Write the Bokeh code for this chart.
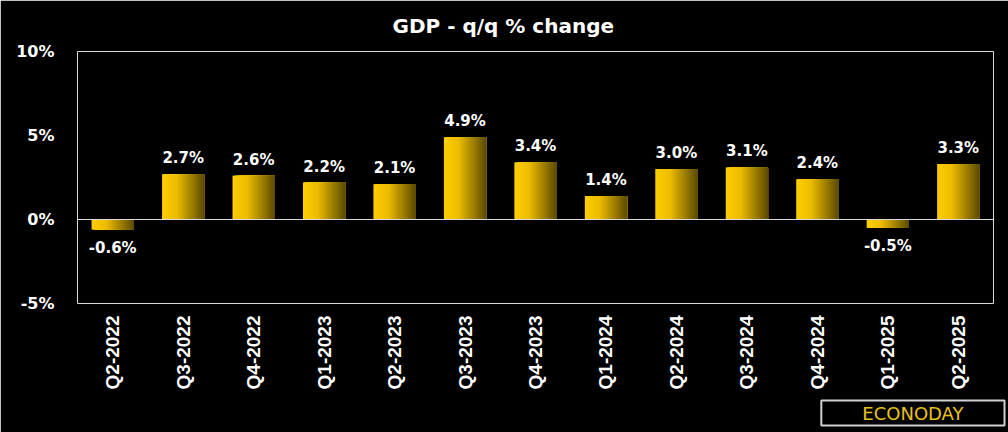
import numpy as np
from bokeh.plotting import figure
from bokeh.models import ColumnDataSource, Span, Title, FixedTicker, CustomJSTickFormatter
from bokeh.transform import dodge
from bokeh.core.properties import value
from bokeh.embed import file_html
from bokeh.resources import INLINE

# ---- data ----
quarters = ["Q2-2022", "Q3-2022", "Q4-2022", "Q1-2023", "Q2-2023", "Q3-2023", "Q4-2023",
            "Q1-2024", "Q2-2024", "Q3-2024", "Q4-2024", "Q1-2025", "Q2-2025"]
gdp_change = [-0.6, 2.7, 2.6, 2.2, 2.1, 4.9, 3.4, 1.4, 3.0, 3.1, 2.4, -0.5, 3.3]
y_ticks = [-5, 0, 5, 10]
title_text = "GDP - q/q % change"
logo_text = "ECONODAY"

labels = ["{:.1f}%".format(v) for v in gdp_change]

W, H = 1008, 432
p = figure(x_range=quarters, y_range=(-5, 10), width=W, height=H,
           output_backend="svg", toolbar_location=None,
           min_border_left=77, min_border_right=15, min_border_top=51, min_border_bottom=129)
p.background_fill_color = "black"
p.border_fill_color = "black"
p.outline_line_color = "#d9d9d9"
p.outline_line_width = 1
p.xgrid.visible = False
p.ygrid.visible = False

src = ColumnDataSource(dict(q=quarters, v=gdp_change))

# gradient bars: overlapping stripes, each extending to the bar's right edge
bar_w = 0.6
N = 40
def grad(t):
    c0 = np.array([255, 206, 0])
    c1 = np.array([236, 188, 0])
    c2 = np.array([92, 74, 0])
    if t < 0.35:
        c = c0 + (c1 - c0) * (t / 0.35)
    else:
        c = c1 + (c2 - c1) * ((t - 0.35) / 0.65)
    return "#%02x%02x%02x" % tuple(int(round(x)) for x in c)

sw = bar_w / N
for i in range(N):
    left = -bar_w / 2 + sw * i
    right = bar_w / 2
    p.vbar(x=dodge("q", (left + right) / 2, range=p.x_range), top="v", bottom=0,
           width=right - left, source=src, fill_color=grad((i + 0.5) / N), line_color=None)

zero = Span(location=0, dimension="width", line_color="#d9d9d9", line_width=1)
p.add_layout(zero)

pos_src = ColumnDataSource(dict(q=[q for q, v in zip(quarters, gdp_change) if v >= 0],
                                v=[v for v in gdp_change if v >= 0],
                                lab=[l for l, v in zip(labels, gdp_change) if v >= 0]))
neg_src = ColumnDataSource(dict(q=[q for q, v in zip(quarters, gdp_change) if v < 0],
                                v=[v for v in gdp_change if v < 0],
                                lab=[l for l, v in zip(labels, gdp_change) if v < 0]))
p.text(x="q", y="v", text="lab", source=pos_src, text_align="center", text_baseline="bottom",
       y_offset=-7, text_color="white", text_font=value("DejaVu Sans"), text_font_style="bold",
       text_font_size="15px")
p.text(x="q", y="v", text="lab", source=neg_src, text_align="center", text_baseline="top",
       y_offset=9, text_color="white", text_font=value("DejaVu Sans"), text_font_style="bold",
       text_font_size="15px")

# axes
p.yaxis.ticker = FixedTicker(ticks=y_ticks)
p.yaxis.formatter = CustomJSTickFormatter(code="return tick + '%';")
p.yaxis.axis_line_color = None
p.yaxis.major_tick_line_color = None
p.yaxis.minor_tick_line_color = None
p.yaxis.major_label_text_color = "white"
p.yaxis.major_label_text_font = "DejaVu Sans"
p.yaxis.major_label_text_font_style = "bold"
p.yaxis.major_label_text_font_size = "16px"
p.yaxis.major_label_standoff = 17

p.xaxis.axis_line_color = None
p.xaxis.major_tick_line_color = None
p.xaxis.minor_tick_line_color = None
p.xaxis.major_label_orientation = np.pi / 2
p.xaxis.major_label_text_color = "white"
p.xaxis.major_label_text_font = "Liberation Sans"
p.xaxis.major_label_text_font_style = "bold"
p.xaxis.major_label_text_font_size = "19px"
p.xaxis.major_label_standoff = 6

# title
p.title = Title(text=title_text, align="left", offset=315, text_color="white",
                text_font="DejaVu Sans", text_font_style="bold", text_font_size="20px",
                standoff=24, vertical_align="top")

# logo
p.add_layout(Title(text=logo_text, align="right", offset=-11, text_color="#e8c21a",
                   text_font="DejaVu Sans", text_font_style="normal", text_font_size="18px",
                   background_fill_color="#000000", background_fill_alpha=1.0,
                   border_line_color="#d0d0d0", border_line_width=2,
                   padding=(41, 2), standoff=12), "below")

open("out.html", "w").write(file_html(p, INLINE))
